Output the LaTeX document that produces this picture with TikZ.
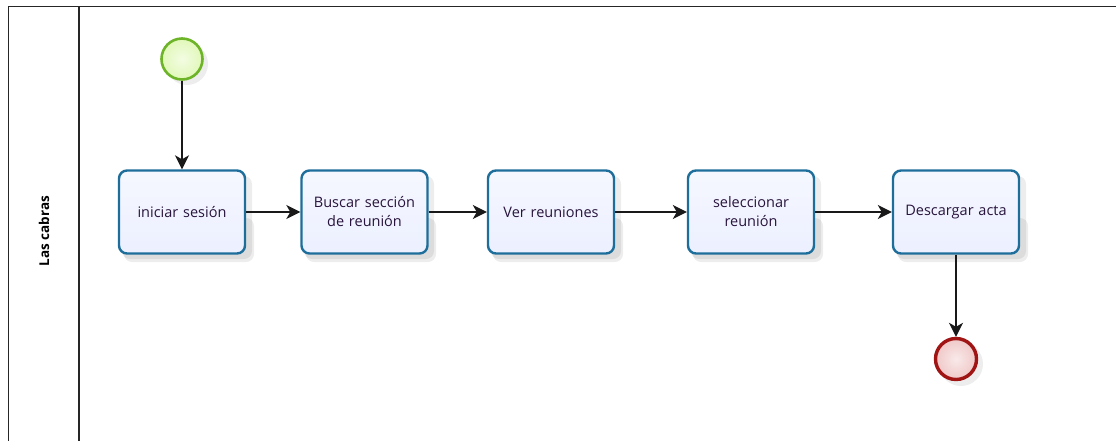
\documentclass[tikz,border=0pt]{standalone}
\usepackage{fontspec}
\setmainfont{Open Sans}
\usetikzlibrary{arrows.meta}
\definecolor{taskline}{RGB}{30,110,155}
\definecolor{taskfill}{RGB}{236,240,255}
\definecolor{startline}{RGB}{110,180,40}
\definecolor{startfill}{RGB}{225,248,185}
\definecolor{endline}{RGB}{160,20,20}
\definecolor{endfill}{RGB}{240,200,200}
\definecolor{textcol}{RGB}{40,20,60}
\tikzset{
  task/.style={draw=taskline, line width=2.4pt, rounded corners=8pt,
    top color=taskfill!50!white, bottom color=taskfill,
    minimum width=126pt, minimum height=83pt, align=center,
    font=\fontsize{14.5}{19}\selectfont, text=textcol, inner sep=2pt,
    text width=118pt},
  startev/.style={circle, draw=startline, line width=2.6pt,
    inner color=startfill!40!white, outer color=startfill,
    minimum size=41pt, inner sep=0pt},
  endev/.style={circle, draw=endline, line width=3.4pt,
    inner color=endfill!40!white, outer color=endfill,
    minimum size=41pt, inner sep=0pt},
  flow/.style={draw=black!90, line width=1.3pt,
    -{Stealth[length=14pt,width=14pt,inset=4pt]}},
  shade/.style={fill=black, opacity=0.07, rounded corners=8pt},
  pool/.style={draw=black!85, line width=1.3pt}
}
\begin{document}
\begin{tikzpicture}[x=1pt,y=-1pt]
  \useasboundingbox (0,0) rectangle (1116,440);
  \fill[white] (0,0) rectangle (1116,440);

  % pool and lane header
  \draw[pool] (1116,6.5) -- (8.5,6.5) -- (8.5,441);
  \draw[pool] (79,6.5) -- (79,441);
  \node[rotate=90, font=\bfseries\fontsize{13.5}{15}\selectfont] (lane) at (44,231) {Las cabras};

  % soft shadows under the shapes
  \foreach \cx in {182,364,551,751,956}{
    \fill[shade] (\cx-58,218) rectangle (\cx+72,262);
    \fill[shade] (\cx-60,176) rectangle (\cx+70,259);
  }
  \fill[black, opacity=0.07] (187,64) circle (21pt);
  \fill[black, opacity=0.07] (961,364) circle (22pt);

  % events
  \node[startev] (start) at (182,59) {};
  \node[endev] (end) at (956,359) {};

  % tasks
  \node[task] (t1) at (182,212) {iniciar sesión};
  \node[task] (t2) at (364.5,212) {Buscar sección\\de reunión};
  \node[task] (t3) at (551,212) {Ver reuniones};
  \node[task] (t4) at (751,212) {seleccionar\\reunión};
  \node[task] (t5) at (956,212) {Descargar acta};

  % sequence flows
  \draw[flow] (start) -- (t1);
  \draw[flow] (t1) -- (t2);
  \draw[flow] (t2) -- (t3);
  \draw[flow] (t3) -- (t4);
  \draw[flow] (t4) -- (t5);
  \draw[flow] (t5) -- (end);
\end{tikzpicture}
\end{document}
